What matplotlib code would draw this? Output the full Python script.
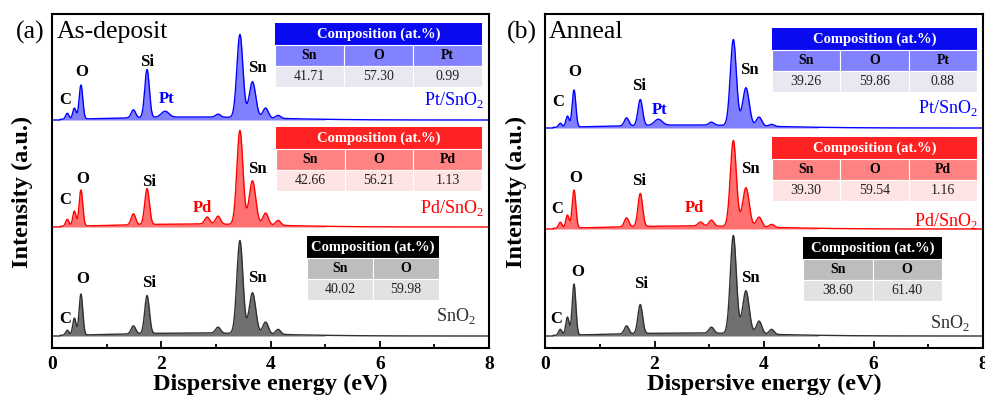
import numpy as np
import matplotlib
matplotlib.use("Agg")
from matplotlib import pyplot as plt
from matplotlib.patches import Rectangle

plt.rcParams['font.family'] = ['Liberation Serif', 'DejaVu Serif']
plt.rcParams['mathtext.fontset'] = 'custom'
plt.rcParams['mathtext.rm'] = 'Liberation Serif'

# peak positions (eV): C, N/Sn-M, O, Al, Si, Pt-M, Pd-L1, Pd-L2/Sn-Ll, Sn-La, Sn-Lb1, Sn-Lb2, Sn-Lg
peak_e = [0.28, 0.41, 0.53, 1.49, 1.74, 2.07, 2.84, 3.04, 3.44, 3.67, 3.91, 4.14]
peak_w = [0.03, 0.03, 0.033, 0.04, 0.042, 0.07, 0.045, 0.045, 0.055, 0.06, 0.05, 0.045]
# broad continuum (center, width)
bg_e, bg_w = 2.6, 1.4

# peak heights (pixels above each baseline)
a_pt = [6, 11, 34, 8, 48, 6, 0, 3, 83, 36, 10, 3]
a_pd = [7, 15, 36, 11, 36, 0, 7, 8, 94, 44, 12, 5]
a_sn = [5, 17, 41, 8, 38, 0, 0, 6, 93, 41, 12, 5]
b_pt = [4, 11, 37, 8, 26, 6, 0, 3, 86, 38, 9, 2]
b_pd = [6, 13, 38, 9, 33, 0, 4, 6, 86, 39, 10, 3]
b_sn = [6, 18, 51, 8, 29, 0, 0, 6, 98, 43, 13, 5]
a_bg = [3, 3, 3]
b_bg = [3, 3, 3]

# baselines of each trace (pixels above bottom axis), Pt, Pd, bare
a_base = [228, 121, 12]
b_base = [220, 119, 12]

comp_a = [[41.71, 57.30, 0.99], [42.66, 56.21, 1.13], [40.02, 59.98]]
comp_b = [[39.26, 59.86, 0.88], [39.30, 59.54, 1.16], [38.60, 61.40]]
comp_cols = [['Sn', 'O', 'Pt'], ['Sn', 'O', 'Pd'], ['Sn', 'O']]
samples = ['Pt/SnO$_2$', 'Pd/SnO$_2$', 'SnO$_2$']

line_c = ['#0000ff', '#ff0000', '#303030']
fill_c = ['#8080ff', '#ff7070', '#707070']
tab_c = [['#0a0af0', '#8282ff', '#e8e8f2'],
         ['#ff2222', '#ff8282', '#ffe4e4'],
         ['#000000', '#bdbdbd', '#e2e2e2']]


def spectrum(x, h, bg):
    y = np.zeros_like(x)
    for e, w, a in zip(peak_e, peak_w, h):
        y += a * np.exp(-0.5 * ((x - e) / w) ** 2)
    y += bg * np.exp(-0.5 * ((x - bg_e) / bg_w) ** 2) * (x > 0.15)
    return y


fig = plt.figure(figsize=(9.85, 4.07), dpi=100)
W, H = 985, 407


def px_axes(l, r, t, b):
    return fig.add_axes([l / W, 1 - b / H, (r - l) / W, (b - t) / H])


x = np.linspace(0, 8, 2000)

panels = [
    dict(box=(52, 489, 14, 348), tag='(a)', title='As-deposit', h=[a_pt, a_pd, a_sn], bg=a_bg,
         base=a_base, tagx=30, titx=57, ylx=22,
         labels=[[('C', 0.24, 248, 'k'), ('O', 0.55, 276, 'k'), ('Si', 1.74, 286, 'k'),
                  ('Pt', 2.1, 249, 'b'), ('Sn', 3.76, 280, 'k')],
                 [('C', 0.24, 148, 'k'), ('O', 0.57, 169, 'k'), ('Si', 1.78, 166, 'k'),
                  ('Pd', 2.75, 140, 'r'), ('Sn', 3.76, 179, 'k')],
                 [('C', 0.24, 29, 'k'), ('O', 0.57, 69, 'k'), ('Si', 1.78, 65, 'k'),
                  ('Sn', 3.76, 70, 'k')]],
         samp=[(7.9, 248), (7.9, 140), (7.75, 32)],
         tabs=[(275, 482, 23), (276, 482, 127), (307, 439, 236)], comp=comp_a),
    dict(box=(545, 983, 14, 348), tag='(b)', title='Anneal', h=[b_pt, b_pd, b_sn], bg=b_bg,
         base=b_base, tagx=522, titx=549, ylx=516,
         labels=[[('C', 0.24, 246, 'k'), ('O', 0.55, 276, 'k'), ('Si', 1.72, 262, 'k'),
                  ('Pt', 2.1, 238, 'b'), ('Sn', 3.74, 278, 'k')],
                 [('C', 0.22, 139, 'k'), ('O', 0.57, 170, 'k'), ('Si', 1.72, 167, 'k'),
                  ('Pd', 2.72, 140, 'r'), ('Sn', 3.76, 179, 'k')],
                 [('C', 0.2, 29, 'k'), ('O', 0.6, 76, 'k'), ('Si', 1.76, 64, 'k'),
                  ('Sn', 3.76, 70, 'k')]],
         samp=[(7.9, 240), (7.9, 127), (7.75, 25)],
         tabs=[(772, 977, 28), (772, 977, 137), (803, 942, 237)], comp=comp_b),
]

lab_col = {'k': 'black', 'b': '#0000ff', 'r': '#ff0000'}

for p in panels:
    l, r, t, b = p['box']
    ax = px_axes(l, r, t, b)
    for i in range(3):
        y = spectrum(x, p['h'][i], p['bg'][i]) + p['base'][i]
        ax.fill_between(x, p['base'][i], y, where=x <= 5.0, color=fill_c[i], lw=0)
        ax.plot(x, y, color=line_c[i], lw=1.0)
        for s, xe, yy, c in p['labels'][i]:
            ax.text(xe, yy, s, ha='center', va='center', fontsize=12, fontweight='bold',
                    color=lab_col[c])
        sx, sy = p['samp'][i]
        ax.text(sx, sy, samples[i], ha='right', va='center', fontsize=13, color=line_c[i])
    ax.set_xlim(0, 8)
    ax.set_ylim(0, b - t)
    ax.set_yticks([])
    ax.set_xticks([0, 2, 4, 6, 8])
    ax.set_xticks([1, 3, 5, 7], minor=True)
    ax.tick_params(axis='x', which='major', direction='in', length=5, width=1.3, labelsize=14, pad=6)
    ax.tick_params(axis='x', which='minor', direction='in', length=3, width=1.3)
    for lab in ax.get_xticklabels():
        lab.set_fontweight('bold')
    for sp in ax.spines.values():
        sp.set_linewidth(1.5)
    ax.set_xlabel('Dispersive energy (eV)', fontsize=17.5, fontweight='bold', labelpad=0)
    fig.text(p['ylx'] / W, 1 - 192 / H, 'Intensity (a.u.)', rotation=90, ha='center', va='center',
             fontsize=17.5, fontweight='bold')
    fig.text(p['tagx'] / W, 1 - 32 / H, p['tag'], ha='center', va='center', fontsize=18.5)
    fig.text(p['titx'] / W, 1 - 32 / H, p['title'], ha='left', va='center', fontsize=18.5)
    p['ax'] = ax

# overlay in pixel coordinates for the composition tables
ov = fig.add_axes([0, 0, 1, 1], zorder=5)
ov.set_xlim(0, W)
ov.set_ylim(H, 0)
ov.axis('off')
rows_h = [22, 21, 21]
for p in panels:
    for i in range(3):
        x0, x1, y0 = p['tabs'][i]
        cols = comp_cols[i]
        vals = p['comp'][i]
        n = len(cols)
        cw = (x1 - x0) / n
        yy = y0
        ov.add_patch(Rectangle((x0, yy), x1 - x0, rows_h[0], facecolor=tab_c[i][0], edgecolor='none'))
        ov.text((x0 + x1) / 2, yy + rows_h[0] / 2 + 0.5, 'Composition (at.%)', ha='center', va='center',
                color='white', fontsize=10.5, fontweight='bold')
        yy += rows_h[0]
        for k in range(n):
            ov.add_patch(Rectangle((x0 + k * cw, yy), cw, rows_h[1], facecolor=tab_c[i][1],
                                   edgecolor='white', lw=0.8))
            ov.text(x0 + (k + 0.5) * cw, yy + rows_h[1] / 2, cols[k], ha='center', va='center',
                    fontsize=10, fontweight='bold')
            ov.add_patch(Rectangle((x0 + k * cw, yy + rows_h[1]), cw, rows_h[2], facecolor=tab_c[i][2],
                                   edgecolor='white', lw=0.8))
            ov.text(x0 + (k + 0.5) * cw, yy + rows_h[1] + rows_h[2] / 2, '%.2f' % vals[k],
                    ha='center', va='center', fontsize=10, color='#222222')

fig.savefig('out.png', dpi=100)
